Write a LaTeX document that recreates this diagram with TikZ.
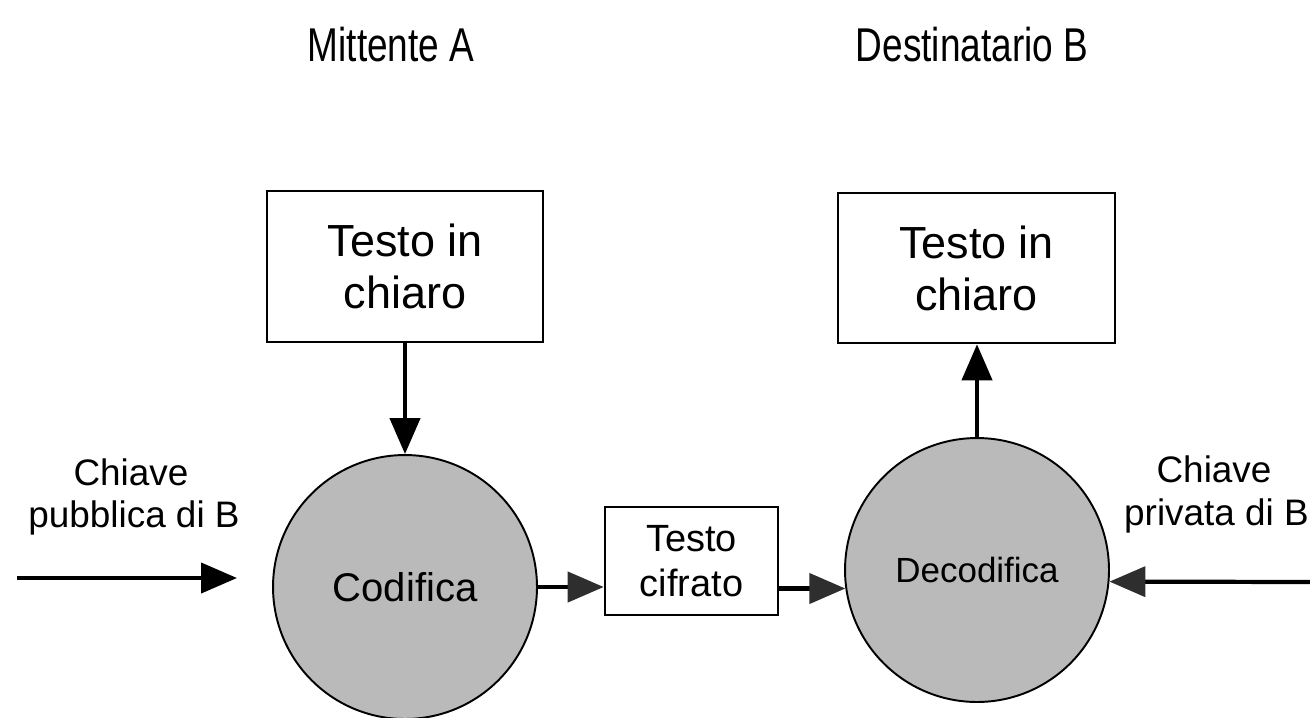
\documentclass[tikz,border=0pt]{standalone}
\usepackage{fontspec}
\setmainfont{Liberation Sans}
\newfontfamily\narrowfont[FakeStretch=0.78]{Liberation Sans}
\usetikzlibrary{arrows.meta}

\begin{document}
\begin{tikzpicture}[x=0.02cm,y=-0.02cm,
    box/.style={draw,line width=1.5pt,align=center,inner sep=0pt},
    disc/.style={draw,circle,line width=1.1pt,fill=black!27,minimum size=5.28cm,inner sep=0pt},
    arr/.style={line width=2.4pt,-{Triangle[length=0.72cm,width=0.6cm]}},
    dith/.style={line width=2.4pt,-{Triangle[length=0.72cm,width=0.6cm,color=black!82]}},
    lbl/.style={anchor=base,font=\fontsize{21}{24}\selectfont},
    title/.style={anchor=base,font=\narrowfont\fontsize{27}{30}\selectfont}]
        \useasboundingbox (0,0) rectangle (1310,717);
        \node[title] (sender) at (391,61) {Mittente A};
        \node[title] (receiver) at (972,61) {Destinatario B};
        %%
        \node[box,minimum width=5.52cm,minimum height=3.02cm,
          font=\fontsize{25.6}{29.6}\selectfont] (plainA) at (405,266.5) {Testo in\\chiaro};
        \node[box,minimum width=5.54cm,minimum height=3cm,
          font=\fontsize{25.6}{29.6}\selectfont] (plainB) at (976.5,268) {Testo in\\chiaro};
        \node[disc,font=\fontsize{22.8}{26}\selectfont] (enc) at (405,587) {Codifica};
        \node[disc,font=\fontsize{19.9}{23}\selectfont] (dec) at (977,570) {Decodifica};
        \node[box,minimum width=3.46cm,minimum height=2.16cm,
          font=\fontsize{21.6}{25.6}\selectfont] (cipher) at (691.5,561) {Testo\\cifrato};
        %%
        \node[lbl] (pubA) at (131,485) {Chiave};
        \node[lbl] (pubB) at (134,527) {pubblica di B};
        \node[lbl] (privA) at (1214,482) {Chiave};
        \node[lbl,anchor=base west] (privB) at (1118,525) {privata di B};
        \coordinate (pubS) at (17,578);
        \coordinate (pubE) at (237,578);
        \coordinate (privS) at (1310,582);
        %%
        \draw[arr] (plainA) -- (enc);
        \draw[arr] (dec.north) -- (dec.north |- plainB.south);
        \draw[arr] (pubS) -- (pubE);
        \draw[dith] (enc.east) -- (enc.east -| cipher.west);
        \draw[dith] (dec.188.7 -| cipher.east) -- (dec.188.7);
        \draw[dith] (privS) -- (dec.-5.2);
\end{tikzpicture}
\end{document}
